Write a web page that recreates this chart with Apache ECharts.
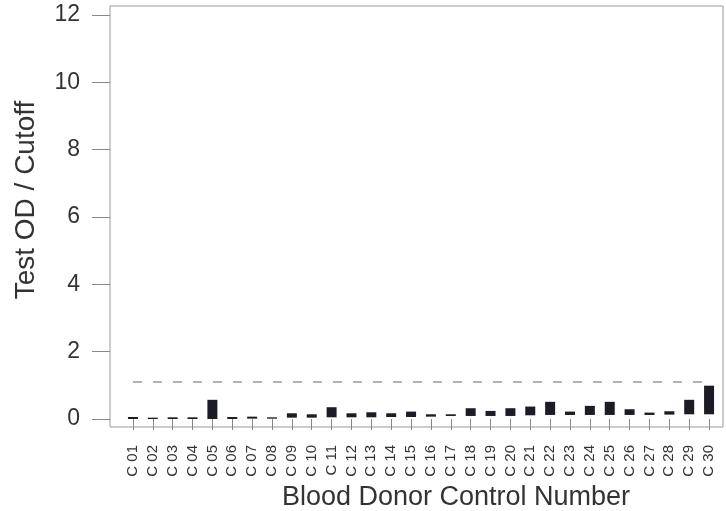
<!DOCTYPE html>
<html><head><meta charset="utf-8">
<script src="https://cdn.jsdelivr.net/npm/echarts@6/dist/echarts.min.js"></script>
<style>html,body{margin:0;padding:0;background:#fff}#c{width:726px;height:511px}</style>
</head><body><div id="c"></div>
<script>
const categories = ['C 01','C 02','C 03','C 04','C 05','C 06','C 07','C 08','C 09','C 10',
  'C 11','C 12','C 13','C 14','C 15','C 16','C 17','C 18','C 19','C 20',
  'C 21','C 22','C 23','C 24','C 25','C 26','C 27','C 28','C 29','C 30'];
const lowValues  = [0.00,0.00,0.00,0.00,0.00,0.00,0.01,0.01,0.04,0.04,
  0.05,0.05,0.05,0.06,0.06,0.07,0.09,0.09,0.09,0.09,
  0.11,0.12,0.12,0.12,0.12,0.12,0.12,0.13,0.14,0.14];
const highValues = [0.06,0.04,0.05,0.05,0.57,0.06,0.07,0.05,0.17,0.14,
  0.35,0.17,0.20,0.17,0.22,0.14,0.14,0.32,0.24,0.32,
  0.37,0.51,0.22,0.39,0.51,0.29,0.19,0.23,0.57,0.99];
const cutoff = 1.1;
const yTicks = [0,2,4,6,8,10,12];

const FONT = 'Liberation Sans, Arial, sans-serif';
const chart = echarts.init(document.getElementById('c'), null, {renderer:'canvas'});
const rangeValues = highValues.map((h,i)=>+(h-lowValues[i]).toFixed(3));
chart.setOption({
  animation:false,
  backgroundColor:'#fff',
  grid:[
    {left:123, right:7, top:15, bottom:92},
    {left:110, right:3, top:6, bottom:84, show:true, borderColor:'#9a9a9a', borderWidth:1, backgroundColor:'transparent'}
  ],
  xAxis:[
    {type:'category', gridIndex:0, data:categories, offset:8,
     axisLine:{show:false},
     axisTick:{show:true, alignWithLabel:true, length:11, lineStyle:{color:'#888'}},
     axisLabel:{rotate:90, margin:18, fontSize:15, color:'#333', fontFamily:FONT, interval:0}},
    {type:'value', gridIndex:1, show:false}
  ],
  yAxis:[
    {type:'value', gridIndex:0, min:yTicks[0], max:yTicks[yTicks.length-1], interval:2, offset:13,
     axisLine:{show:false},
     axisTick:{show:true, length:18, lineStyle:{color:'#888'}},
     splitLine:{show:false},
     axisLabel:{margin:30, fontSize:23, color:'#333', fontFamily:FONT}},
    {type:'value', gridIndex:1, show:false}
  ],
  graphic:[
    {type:'text', x:26, y:200, rotation:Math.PI/2,
     style:{text:'Test OD / Cutoff', x:0, y:0, font:'28px '+FONT, fill:'#333', align:'center', verticalAlign:'middle'}},
    {type:'text', x:456, y:498,
     style:{text:'Blood Donor Control Number', x:0, y:0, font:'27px '+FONT, fill:'#333', align:'center', verticalAlign:'middle'}}
  ],
  series:[
    {type:'bar', stack:'r', xAxisIndex:0, yAxisIndex:0, data:lowValues, barWidth:10,
     itemStyle:{color:'transparent'}, silent:true},
    {type:'bar', stack:'r', xAxisIndex:0, yAxisIndex:0, data:rangeValues, barWidth:10,
     itemStyle:{color:'#1c1c26'},
     markLine:{symbol:'none', silent:true, label:{show:false},
       lineStyle:{type:[9,11], color:'#9a9a9a', width:1.5},
       data:[[{coord:[0,cutoff]},{coord:[29,cutoff]}]]}}
  ]
});
</script></body></html>
